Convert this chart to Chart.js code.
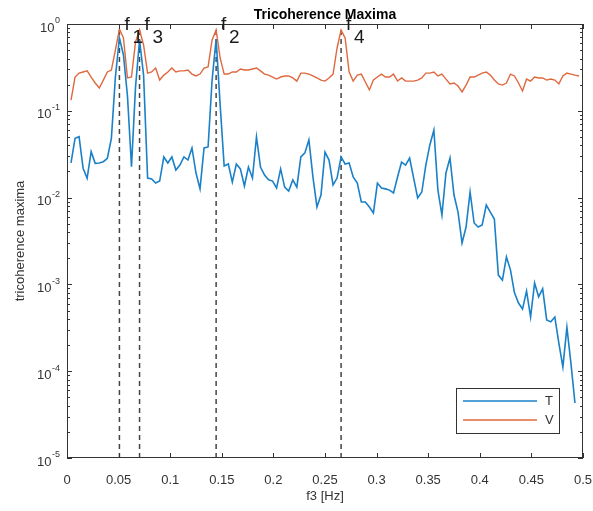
<!DOCTYPE html>
<html>
<head>
<meta charset="utf-8">
<script src="https://cdn.jsdelivr.net/npm/chart.js@4.4.1/dist/chart.umd.min.js"></script>
<style>
  html, body { margin: 0; padding: 0; background: #fff; }
  #wrap { width: 593px; height: 511px; }
</style>
</head>
<body>
<div id="wrap"><canvas id="chart" width="593" height="511"></canvas></div>
<script>
// frequency grid f3 [Hz]
const freqs = [
  0.0039, 0.0078, 0.0117, 0.0156, 0.0195, 0.0234, 0.0273, 0.0313, 0.0352, 0.0391,
  0.0430, 0.0469, 0.0508, 0.0547, 0.0586, 0.0625, 0.0664, 0.0703, 0.0742, 0.0781,
  0.0820, 0.0859, 0.0898, 0.0938, 0.0977, 0.1016, 0.1055, 0.1094, 0.1133, 0.1172,
  0.1211, 0.1250, 0.1289, 0.1328, 0.1367, 0.1406, 0.1445, 0.1484, 0.1523, 0.1563,
  0.1602, 0.1641, 0.1680, 0.1719, 0.1758, 0.1797, 0.1836, 0.1875, 0.1914, 0.1953,
  0.1992, 0.2031, 0.2070, 0.2109, 0.2148, 0.2188, 0.2227, 0.2266, 0.2305, 0.2344,
  0.2383, 0.2422, 0.2461, 0.2500, 0.2539, 0.2578, 0.2617, 0.2656, 0.2695, 0.2734,
  0.2773, 0.2813, 0.2852, 0.2891, 0.2930, 0.2969, 0.3008, 0.3047, 0.3086, 0.3125,
  0.3164, 0.3203, 0.3242, 0.3281, 0.3320, 0.3359, 0.3398, 0.3438, 0.3477, 0.3516,
  0.3555, 0.3594, 0.3633, 0.3672, 0.3711, 0.3750, 0.3789, 0.3828, 0.3867, 0.3906,
  0.3945, 0.3984, 0.4023, 0.4063, 0.4102, 0.4141, 0.4180, 0.4219, 0.4258, 0.4297,
  0.4336, 0.4375, 0.4414, 0.4453, 0.4492, 0.4531, 0.4570, 0.4609, 0.4648, 0.4688,
  0.4727, 0.4766, 0.4805, 0.4844, 0.4883, 0.4922, 0.4961
];

// T series
const tValues = [
  0.0252, 0.0482, 0.0503, 0.0218, 0.0167, 0.0338, 0.0248, 0.0250, 0.0259, 0.0284,
  0.0482, 0.245, 0.69, 0.44, 0.148, 0.0227, 0.188, 0.654, 0.258, 0.0168,
  0.0164, 0.0147, 0.0155, 0.0294, 0.0250, 0.0294, 0.0208, 0.0237, 0.0294, 0.0271,
  0.0373, 0.0192, 0.0126, 0.0373, 0.0383, 0.226, 0.672, 0.117, 0.0231, 0.0244,
  0.0151, 0.0244, 0.0214, 0.0136, 0.0225, 0.0168, 0.0499, 0.0225, 0.0182, 0.0160,
  0.0155, 0.0129, 0.0214, 0.0132, 0.0119, 0.0160, 0.0132, 0.0294, 0.0327, 0.0461,
  0.0173, 0.0078, 0.0107, 0.0335, 0.0271, 0.0140, 0.0168, 0.0294, 0.0244, 0.0250,
  0.0173, 0.0147, 0.0089, 0.0089, 0.0078, 0.00665, 0.0147, 0.0129, 0.0126, 0.0122,
  0.0113, 0.0173, 0.0257, 0.0237, 0.0286, 0.0168, 0.0099, 0.0116, 0.0237, 0.0404,
  0.0601, 0.0122, 0.0063, 0.0192, 0.0286, 0.0107, 0.0068, 0.0030, 0.00458, 0.0116,
  0.0051, 0.00458, 0.00483, 0.0082, 0.0068, 0.00567, 0.00128, 0.00112, 0.00207, 0.00147,
  0.00080, 0.00061, 0.00052, 0.00084, 0.00042, 0.00104, 0.00072, 0.00089, 0.00039, 0.00037,
  0.00042, 0.00021, 0.000112, 0.00032, 0.000124, 0.000043, null
];

// V series
const vValues = [
  0.133, 0.245, 0.272, 0.280, 0.288, 0.245, 0.209, 0.183, 0.226, 0.280,
  0.295, 0.50, 0.875, 0.69, 0.239, 0.245, 0.62, 0.853, 0.573, 0.272,
  0.280, 0.311, 0.226, 0.258, 0.280, 0.311, 0.280, 0.288, 0.288, 0.295,
  0.265, 0.252, 0.265, 0.311, 0.320, 0.654, 0.853, 0.406, 0.265, 0.265,
  0.280, 0.280, 0.303, 0.295, 0.295, 0.303, 0.311, 0.288, 0.265, 0.258,
  0.245, 0.232, 0.245, 0.252, 0.252, 0.239, 0.220, 0.272, 0.272, 0.265,
  0.252, 0.239, 0.226, 0.220, 0.239, 0.265, 0.529, 0.853, 0.69, 0.280,
  0.220, 0.258, 0.265, 0.215, 0.174, 0.226, 0.245, 0.265, 0.245, 0.245,
  0.265, 0.220, 0.239, 0.220, 0.220, 0.220, 0.226, 0.239, 0.272, 0.272,
  0.280, 0.252, 0.265, 0.232, 0.204, 0.209, 0.193, 0.165, 0.198, 0.245,
  0.245, 0.258, 0.272, 0.280, 0.258, 0.226, 0.204, 0.198, 0.209, 0.265,
  0.252, 0.209, 0.169, 0.232, 0.220, 0.245, 0.239, 0.239, 0.226, 0.232,
  0.226, 0.204, 0.252, 0.272, 0.265, 0.258, 0.252
];

// marked maxima
const peakFreqs = [0.0508, 0.0703, 0.1445, 0.2656];
const peakSubs = ['1', '3', '2', '4'];

const xTicks = [0, 0.05, 0.1, 0.15, 0.2, 0.25, 0.3, 0.35, 0.4, 0.45, 0.5];
const xTickLabels = ['0', '0.05', '0.1', '0.15', '0.2', '0.25', '0.3', '0.35', '0.4', '0.45', '0.5'];
const yDecades = [-5, -4, -3, -2, -1, 0];

const FONT = '"Liberation Sans", Arial, Helvetica, sans-serif';
const AXIS_COLOR = '#333333';
const T_COLOR = '#1a80c8';
const V_COLOR = '#e0683e';

const tPoints = freqs.map((f, i) => ({ x: f, y: tValues[i] }));
const vPoints = freqs.map((f, i) => ({ x: f, y: vValues[i] }));

const peakSets = peakFreqs.map(f => ({
  label: 'peak',
  data: [{ x: f, y: 1e-5 }, { x: f, y: vValues[freqs.indexOf(f)] }],
  borderColor: '#444444',
  borderWidth: 1.5,
  borderDash: [5, 4],
  pointRadius: 0,
  fill: false
}));

// axes box, ticks, labels, legend and title in MATLAB style
const matlabAxes = {
  id: 'matlabAxes',
  afterDraw(chart) {
    const { ctx, chartArea: a, scales: { x, y } } = chart;
    ctx.save();
    ctx.strokeStyle = AXIS_COLOR;
    ctx.lineWidth = 1;

    ctx.beginPath();
    xTicks.forEach(v => {
      const px = Math.round(x.getPixelForValue(v)) + 0.5;
      ctx.moveTo(px, a.bottom); ctx.lineTo(px, a.bottom - 5);
      ctx.moveTo(px, a.top); ctx.lineTo(px, a.top + 5);
    });
    yDecades.forEach(d => {
      const py = Math.round(y.getPixelForValue(Math.pow(10, d))) + 0.5;
      ctx.moveTo(a.left, py); ctx.lineTo(a.left + 5, py);
      ctx.moveTo(a.right, py); ctx.lineTo(a.right - 5, py);
      if (d < 0) {
        for (let m = 2; m <= 9; m++) {
          const pm = Math.round(y.getPixelForValue(m * Math.pow(10, d))) + 0.5;
          ctx.moveTo(a.left, pm); ctx.lineTo(a.left + 3, pm);
          ctx.moveTo(a.right, pm); ctx.lineTo(a.right - 3, pm);
        }
      }
    });
    ctx.stroke();
    ctx.strokeRect(Math.round(a.left) + 0.5, Math.round(a.top) + 0.5,
      Math.round(a.width) - 1, Math.round(a.height) - 1);

    // x tick labels
    ctx.fillStyle = AXIS_COLOR;
    ctx.font = '13px ' + FONT;
    ctx.textAlign = 'center';
    ctx.textBaseline = 'middle';
    xTicks.forEach((v, i) => {
      ctx.fillText(xTickLabels[i], x.getPixelForValue(v), a.bottom + 22);
    });

    // y tick labels 10^n
    yDecades.forEach(d => {
      const py = y.getPixelForValue(Math.pow(10, d));
      const exp = d === 0 ? '0' : String(d);
      ctx.font = '9px ' + FONT;
      const ew = ctx.measureText(exp).width;
      const expX = a.left - 7 - ew;
      ctx.textAlign = 'left';
      ctx.fillText(exp, expX, py - 3);
      ctx.font = '13px ' + FONT;
      ctx.textAlign = 'right';
      ctx.fillText('10', expX - 0.5, py + 4);
    });

    // axis titles
    ctx.font = '13px ' + FONT;
    ctx.textAlign = 'center';
    ctx.fillText('f3 [Hz]', (a.left + a.right) / 2, 496);
    ctx.save();
    ctx.translate(20, (a.top + a.bottom) / 2);
    ctx.rotate(-Math.PI / 2);
    ctx.fillText('tricoherence maxima', 0, 0);
    ctx.restore();

    // peak labels f with subscript
    ctx.fillStyle = '#1a1a1a';
    ctx.font = '19px ' + FONT;
    ctx.textAlign = 'left';
    ctx.textBaseline = 'alphabetic';
    peakFreqs.forEach((f, i) => {
      const px = x.getPixelForValue(f);
      ctx.fillText('f', px + 5, 30);
      ctx.fillText(peakSubs[i], px + 13, 43);
    });

    // title
    ctx.fillStyle = '#000';
    ctx.font = 'bold 14px ' + FONT;
    ctx.textAlign = 'center';
    ctx.fillText('Tricoherence Maxima', (a.left + a.right) / 2, 19);

    // legend
    const lx = 456, ly = 388, lw = 103, lh = 45;
    ctx.fillStyle = '#fff';
    ctx.fillRect(lx, ly, lw, lh);
    ctx.strokeStyle = AXIS_COLOR;
    ctx.lineWidth = 1;
    ctx.strokeRect(lx + 0.5, ly + 0.5, lw, lh);
    [[T_COLOR, 'T', 401], [V_COLOR, 'V', 420]].forEach(([c, t, yy]) => {
      ctx.strokeStyle = c;
      ctx.lineWidth = 1.5;
      ctx.beginPath();
      ctx.moveTo(463, yy); ctx.lineTo(537, yy);
      ctx.stroke();
      ctx.fillStyle = AXIS_COLOR;
      ctx.font = '13px ' + FONT;
      ctx.textAlign = 'left';
      ctx.textBaseline = 'middle';
      ctx.fillText(t, 545, yy);
    });
    ctx.restore();
  }
};

new Chart(document.getElementById('chart').getContext('2d'), {
  type: 'line',
  data: {
    datasets: [
      { label: 'T', data: tPoints, borderColor: T_COLOR, borderWidth: 1.6, pointRadius: 0, fill: false, tension: 0 },
      { label: 'V', data: vPoints, borderColor: V_COLOR, borderWidth: 1.4, pointRadius: 0, fill: false, tension: 0 },
      ...peakSets
    ]
  },
  options: {
    responsive: false,
    animation: false,
    devicePixelRatio: 1,
    layout: { padding: { left: 67, right: 10, top: 24, bottom: 53 } },
    plugins: { legend: { display: false }, tooltip: { enabled: false }, title: { display: false } },
    scales: {
      x: { type: 'linear', min: 0, max: 0.5, display: false },
      y: { type: 'logarithmic', min: 1e-5, max: 1, display: false }
    }
  },
  plugins: [matlabAxes]
});
</script>
</body>
</html>
